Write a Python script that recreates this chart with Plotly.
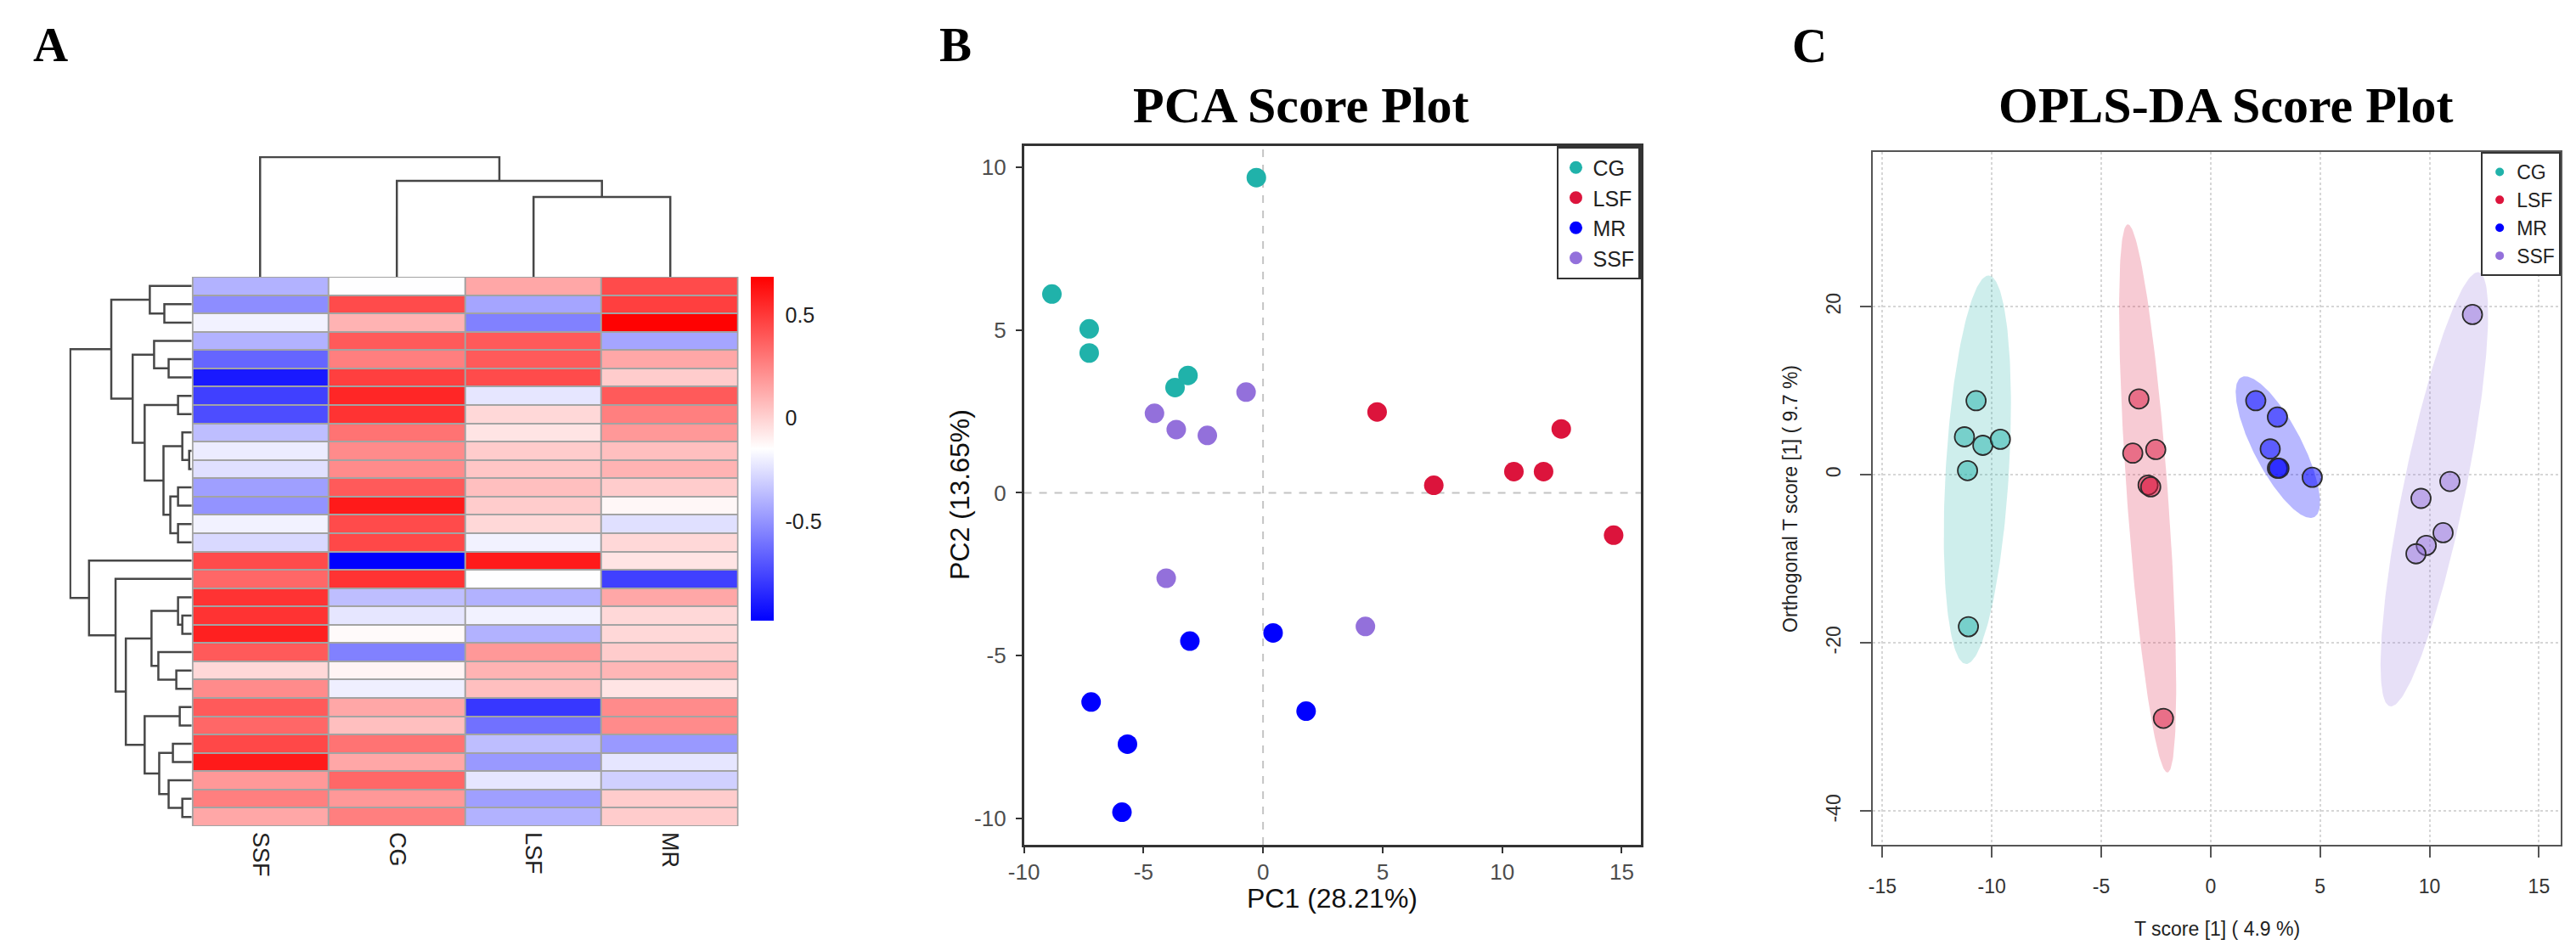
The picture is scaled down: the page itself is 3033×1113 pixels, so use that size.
import numpy as np
import plotly.graph_objects as go

W, H = 3033, 1113

# ---------------- Panel A data (heatmap) ----------------
columns = ["SSF", "CG", "LSF", "MR"]
row_ids = list(range(1, 31))
heat_SSF = [-0.40, -0.52, -0.19, -0.40, -0.65, -0.90, -0.77, -0.73, -0.36, -0.21,
            -0.25, -0.46, -0.50, -0.19, -0.27, 0.44, 0.35, 0.52, 0.52, 0.58,
            0.39, -0.02, 0.23, 0.39, 0.35, 0.45, 0.60, 0.19, 0.27, 0.14]
heat_CG = [-0.15, 0.44, 0.10, 0.39, 0.27, 0.48, 0.56, 0.52, 0.31, 0.23,
           0.23, 0.39, 0.60, 0.44, 0.45, -0.98, 0.52, -0.36, -0.23, -0.13,
           -0.56, -0.11, -0.20, 0.14, 0.06, 0.31, 0.14, 0.35, 0.19, 0.27]
heat_LSF = [0.14, -0.44, -0.56, 0.39, 0.39, 0.44, -0.23, -0.02, -0.06, 0.02,
            0.04, 0.06, 0.02, -0.02, -0.19, 0.60, -0.15, -0.40, -0.19, -0.40,
            0.19, 0.10, 0.06, -0.80, -0.61, -0.36, -0.48, -0.23, -0.46, -0.40]
heat_MR = [0.44, 0.48, 0.68, -0.44, 0.14, 0.02, 0.39, 0.27, 0.19, 0.06,
           0.10, 0.02, -0.12, -0.25, -0.02, -0.06, -0.77, 0.14, -0.02, -0.02,
           0.02, 0.09, -0.06, 0.23, 0.23, -0.48, -0.23, -0.30, 0.02, 0.02]
z_min, z_max = -0.98, 0.685
colorbar_ticks = [-0.5, 0, 0.5]
colorbar_ticktext = ["-0.5", "0", "0.5"]

# dendrograms: (height, left, right); leaves are row numbers / column indices
row_tree = (142,
            (94, (49, 1, (32, 2, 3)),
                 (69, (44, 4, (27, 5, 6)),
                      (55, (16, 7, 8),
                           (33, (11, 9, (3, 10, 11)),
                                (25, (16, 12, 13), (16, 14, 15)))))),
            (120, 16,
                  (89, 17,
                       (77, (47, (16, 18, (11, 19, 20)), (39, 21, (18, 22, 23))),
                            (55, (14, 24, 25),
                                 (38, (22, 26, 27), (27, 28, (11, 29, 30))))))))
col_tree = (141, 0, (113, 1, (94, 2, 3)))

# ---------------- Panel B data (PCA) ----------------
groups = ["CG", "LSF", "MR", "SSF"]
colors = {"CG": "#20B2AA", "LSF": "#DC143C", "MR": "#0000FF", "SSF": "#9370DB"}
pca_x = {
    "CG": [-0.28, -8.83, -7.27, -7.27, -3.68, -3.14],
    "LSF": [4.77, 7.14, 10.49, 11.73, 12.47, 14.66],
    "MR": [0.42, -3.06, -7.19, -5.67, -5.90, 1.80],
    "SSF": [-0.71, -4.54, -3.63, -2.33, -4.05, 4.28],
}
pca_y = {
    "CG": [9.67, 6.10, 5.03, 4.29, 3.23, 3.60],
    "LSF": [2.48, 0.23, 0.65, 0.65, 1.96, -1.30],
    "MR": [-4.30, -4.55, -6.42, -7.71, -9.80, -6.70],
    "SSF": [3.09, 2.44, 1.94, 1.76, -2.62, -4.10],
}
pca_xticks = [-10, -5, 0, 5, 10, 15]
pca_yticks = [-10, -5, 0, 5, 10]

# ---------------- Panel C data (OPLS-DA) ----------------
opls_x = {
    "CG": [-10.72, -11.25, -10.41, -9.61, -11.11, -11.07],
    "LSF": [-3.28, -3.56, -2.51, -2.86, -2.74, -2.16],
    "MR": [2.06, 3.05, 2.72, 3.05, 3.12, 4.64],
    "SSF": [11.96, 10.93, 9.61, 10.62, 9.85, 9.38],
}
opls_y = {
    "CG": [8.82, 4.52, 3.51, 4.23, 0.50, -18.06],
    "LSF": [9.03, 2.58, 3.01, -1.22, -1.43, -28.96],
    "MR": [8.82, 6.88, 3.08, 0.79, 0.79, -0.29],
    "SSF": [19.07, -0.79, -2.80, -6.88, -8.39, -9.39],
}
# ellipse: centre, half major-axis vector, half minor-axis vector (data units)
ell_center = {"CG": (-10.66, 0.61), "LSF": (-2.88, -2.80), "MR": (3.07, 3.30), "SSF": (10.22, -1.72)}
ell_major = {"CG": (0.53, 23.1), "LSF": (-0.91, 32.6), "MR": (-1.71, 8.24), "SSF": (2.04, 25.8)}
ell_minor = {"CG": (1.44, -0.31), "LSF": (0.935, 0.24), "MR": (0.89, 1.73), "SSF": (1.37, -1.01)}
opls_xticks = [-15, -10, -5, 0, 5, 10, 15]
opls_yticks = [-40, -20, 0, 20]


def hex_rgba(h, a):
    h = h.lstrip("#")
    return "rgba(%d,%d,%d,%.2f)" % (int(h[0:2], 16), int(h[2:4], 16), int(h[4:6], 16), a)


def px(xp):
    return xp / W


def py(yp):
    return 1 - yp / H


def dendro_paths(node, pos_out, h_out):
    if isinstance(node, int):
        return float(node), 0.0
    h, a, b = node
    pa, ha = dendro_paths(a, pos_out, h_out)
    pb, hb = dendro_paths(b, pos_out, h_out)
    pos_out += [pa, pa, pb, pb, None]
    h_out += [ha, h, h, hb, None]
    return (pa + pb) / 2.0, h


fig = go.Figure()

# ---- heatmap ----
z = [[heat_SSF[i], heat_CG[i], heat_LSF[i], heat_MR[i]] for i in range(len(row_ids))]
fig.add_trace(go.Heatmap(
    z=z, x=columns, y=row_ids, zmin=z_min, zmax=z_max,
    colorscale=[[0, "#0000FF"], [0.5, "#FFFFFF"], [1, "#FF0000"]],
    xgap=2, ygap=2, xaxis="x", yaxis="y",
    colorbar=dict(x=px(862), xanchor="left", y=py(318), yanchor="top",
                  len=405 / H, lenmode="fraction", thickness=27, thicknessmode="pixels",
                  xpad=0, ypad=0, outlinewidth=0,
                  tickvals=colorbar_ticks, ticktext=colorbar_ticktext,
                  ticks="outside", ticklen=9, tickcolor="rgba(0,0,0,0)",
                  tickfont=dict(family="Liberation Sans", size=25, color="#222")),
))

rp, rh = [], []
dendro_paths(row_tree, rp, rh)
fig.add_trace(go.Scatter(x=rh, y=rp, mode="lines", line=dict(color="#474747", width=2.5),
                         xaxis="x2", yaxis="y2", showlegend=False, hoverinfo="skip"))
cp, ch = [], []
dendro_paths(col_tree, cp, ch)
fig.add_trace(go.Scatter(x=cp, y=ch, mode="lines", line=dict(color="#474747", width=2.5),
                         xaxis="x3", yaxis="y3", showlegend=False, hoverinfo="skip"))

# ---- PCA ----
for g in groups:
    fig.add_trace(go.Scatter(x=pca_x[g], y=pca_y[g], mode="markers",
                             marker=dict(size=23, color=colors[g], line=dict(width=0)),
                             xaxis="x4", yaxis="y4", showlegend=False, name=g))
for g in groups:
    fig.add_trace(go.Scatter(x=[None], y=[None], mode="markers", name=g,
                             marker=dict(size=15, color=colors[g]),
                             xaxis="x4", yaxis="y4", legend="legend"))

# ---- OPLS-DA ----
t = np.linspace(0, 2 * np.pi, 200)
for g in groups:
    cx, cy = ell_center[g]
    ux, uy = ell_major[g]
    vx, vy = ell_minor[g]
    ex = cx + ux * np.cos(t) + vx * np.sin(t)
    ey = cy + uy * np.cos(t) + vy * np.sin(t)
    fig.add_trace(go.Scatter(x=ex, y=ey, mode="lines", fill="toself",
                             fillcolor=hex_rgba(colors[g], 0.22 if g != "MR" else 0.28),
                             line=dict(width=0), xaxis="x5", yaxis="y5",
                             showlegend=False, hoverinfo="skip"))
for g in groups:
    fig.add_trace(go.Scatter(x=opls_x[g], y=opls_y[g], mode="markers",
                             marker=dict(size=23, color=hex_rgba(colors[g], 0.5),
                                         line=dict(width=1.8, color="#2b2b2b")),
                             xaxis="x5", yaxis="y5", showlegend=False, name=g))
for g in groups:
    fig.add_trace(go.Scatter(x=[None], y=[None], mode="markers", name=g,
                             marker=dict(size=10, color=colors[g]),
                             xaxis="x5", yaxis="y5", legend="legend2"))

hidden = dict(visible=False, showgrid=False, zeroline=False)
sans = "Liberation Sans"
serif = "Liberation Serif"

fig.update_layout(
    width=W, height=H, margin=dict(l=0, r=0, t=0, b=0),
    paper_bgcolor="white", plot_bgcolor="white",
    font=dict(family=sans, color="#222"),
    xaxis=dict(domain=[px(200), px(848)], anchor="y", showgrid=False, zeroline=False,
               showline=False, ticks="", tickangle=90, ticklabelstandoff=6,
               tickfont=dict(family=sans, size=27, color="#222")),
    yaxis=dict(domain=[py(965), py(318)], anchor="x", range=[30.5, 0.5], **hidden),
    xaxis2=dict(domain=[px(55), px(200)], anchor="y2", range=[143, 0], **hidden),
    yaxis2=dict(domain=[py(965), py(318)], anchor="x2", range=[30.5, 0.5], **hidden),
    xaxis3=dict(domain=[px(200), px(848)], anchor="y3", range=[-0.5, 3.5], **hidden),
    yaxis3=dict(domain=[py(318), py(176)], anchor="x3", range=[0, 142], **hidden),
    xaxis4=dict(domain=[px(1186), px(1917)], anchor="y4", range=[-10.0, 15.8],
                showgrid=False, zeroline=False, showline=True, mirror=True,
                linecolor="#333", linewidth=2.5, ticks="outside", ticklen=7, tickwidth=2,
                tickcolor="#333", tickvals=pca_xticks, ticktext=[str(v) for v in pca_xticks],
                ticklabelstandoff=0, tickfont=dict(family=sans, size=26, color="#4d4d4d")),
    yaxis4=dict(domain=[py(987), py(164)], anchor="x4", range=[-10.8, 10.64],
                showgrid=False, zeroline=False, showline=True, mirror=True,
                linecolor="#333", linewidth=2.5, ticks="outside", ticklen=7, tickwidth=2,
                tickcolor="#333", tickvals=pca_yticks, ticktext=[str(v) for v in pca_yticks],
                ticklabelstandoff=6, tickfont=dict(family=sans, size=26, color="#4d4d4d")),
    xaxis5=dict(domain=[px(2192), px(3007)], anchor="y5", range=[-15.43, 16.0],
                showgrid=True, gridcolor="#d6d6d6", griddash="dot", gridwidth=2,
                zeroline=False, showline=True, mirror=True, linecolor="#555", linewidth=2,
                ticks="outside", ticklen=13, tickwidth=2, tickcolor="#555",
                tickvals=opls_xticks, ticktext=[str(v) for v in opls_xticks],
                ticklabelstandoff=14, tickfont=dict(family=sans, size=23, color="#333")),
    yaxis5=dict(domain=[py(987), py(171)], anchor="x5", range=[-44.0, 38.4],
                showgrid=True, gridcolor="#d6d6d6", griddash="dot", gridwidth=2,
                zeroline=False, showline=True, mirror=True, linecolor="#555", linewidth=2,
                ticks="outside", ticklen=13, tickwidth=2, tickcolor="#555", tickangle=-90,
                tickvals=opls_yticks, ticktext=[str(v) for v in opls_yticks],
                ticklabelstandoff=14, tickfont=dict(family=sans, size=23, color="#333")),
    legend=dict(x=px(1917), xanchor="right", y=py(164), yanchor="top",
                bgcolor="white", bordercolor="#333", borderwidth=2.5,
                font=dict(family=sans, size=25, color="#222"), itemsizing="trace",
                tracegroupgap=0),
    legend2=dict(x=px(3007), xanchor="right", y=py(171), yanchor="top",
                 bgcolor="white", bordercolor="#333", borderwidth=2,
                 font=dict(family=sans, size=23, color="#222"), itemsizing="trace",
                 tracegroupgap=0),
    shapes=[
        dict(type="rect", xref="x", yref="y", x0=-0.5, x1=3.5, y0=0.5, y1=30.5,
             fillcolor="#a3a3a3", line=dict(color="#a3a3a3", width=2), layer="below"),
        dict(type="line", xref="x4", yref="y4 domain", x0=0, x1=0, y0=0, y1=1,
             line=dict(color="#c4c4c4", width=2, dash="dash"), layer="below"),
        dict(type="line", xref="x4 domain", yref="y4", x0=0, x1=1, y0=0, y1=0,
             line=dict(color="#c4c4c4", width=2, dash="dash"), layer="below"),
    ],
)

annots = [
    dict(text="<b>A</b>", x=px(33), y=py(44), size=57, fam=serif, color="black"),
    dict(text="<b>B</b>", x=px(1105), y=py(44), size=57, fam=serif, color="black"),
    dict(text="<b>C</b>", x=px(2117), y=py(45), size=57, fam=serif, color="black"),
    dict(text="<b>PCA Score Plot</b>", x=px(1514), y=py(116), size=60, fam=serif, color="black"),
    dict(text="<b>OPLS-DA Score Plot</b>", x=px(2610), y=py(116), size=60, fam=serif, color="black"),
    dict(text="PC1 (28.21%)", x=px(1551), y=py(1050), size=32, fam=sans, color="#111"),
    dict(text="PC2 (13.65%)", x=px(1110), y=py(575), size=32, fam=sans, color="#111", angle=-90),
    dict(text="T score [1] ( 4.9 %)", x=px(2600), y=py(1086), size=23, fam=sans, color="#222"),
    dict(text="Orthogonal T score [1] ( 9.7 %)", x=px(2094), y=py(579), size=23, fam=sans,
         color="#222", angle=-90),
]
for a in annots:
    fig.add_annotation(text=a["text"], x=a["x"], y=a["y"], xref="paper", yref="paper",
                       xanchor="center", yanchor="middle", showarrow=False,
                       textangle=a.get("angle", 0),
                       font=dict(family=a["fam"], size=a["size"], color=a["color"]))

fig.write_html("out.html")
